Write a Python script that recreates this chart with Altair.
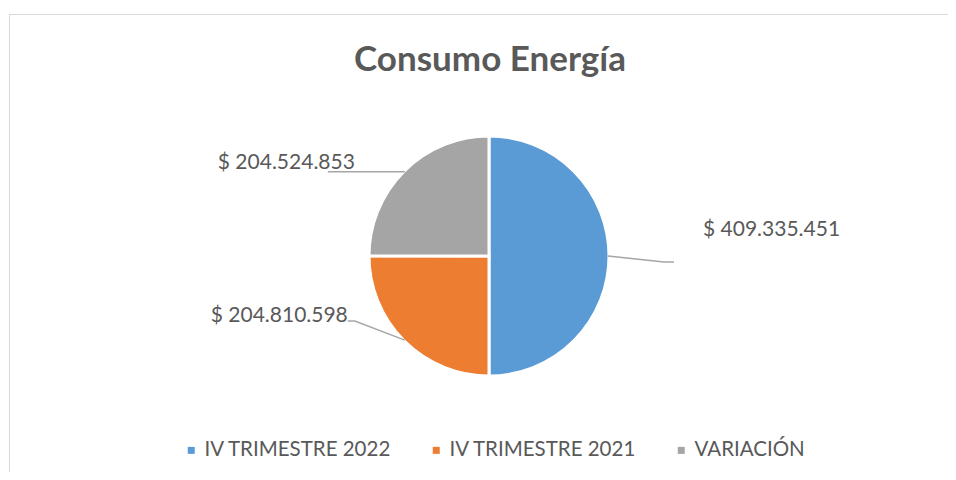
import math
import altair as alt
import pandas as pd

# ---- data ----
categories = ["IV TRIMESTRE 2022", "IV TRIMESTRE 2021", "VARIACIÓN"]
values = [409335451, 204810598, 204524853]
colors = ["#5B9BD5", "#ED7D31", "#A5A5A5"]
title_text = "Consumo Energía"

# ---- layout constants (chart coordinates) ----
W, H = 940, 464
CX, CY, R = 481, 248, 119
FONT = "Lato"
TXT = "#595959"

df = pd.DataFrame({"category": categories, "value": values, "idx": range(len(values))})
total = sum(values)
cum = 0
mids = []
for v in values:
    mids.append((cum + v / 2) / total * 2 * math.pi)
    cum += v
df["mid"] = mids
df["ex"] = CX + R * df["mid"].apply(math.sin)
df["ey"] = CY - R * df["mid"].apply(math.cos)
df["label"] = df["value"].apply(lambda v: "$ " + f"{v:,}".replace(",", "."))

# label placement offsets relative to slice edge point (style, not data)
elbow = [(56, 6), (-50, -19), (-77, 0)]
end = [(66, 6), (-57, -19), (-77, 0)]
lab = [(95, -26), (-57, -24), (-50, -9)]
side = ["left", "right", "right"]

rows = []
for i in range(len(df)):
    ex, ey = df["ex"][i], df["ey"][i]
    pts = [(ex, ey), (ex + elbow[i][0], ey + elbow[i][1]), (ex + end[i][0], ey + end[i][1])]
    for k, (px, py) in enumerate(pts):
        rows.append({"category": categories[i], "k": k, "px": px, "py": py})
lines_df = pd.DataFrame(rows)

df["lx"] = [df["ex"][i] + lab[i][0] for i in range(len(df))]
df["ly"] = [df["ey"][i] + lab[i][1] for i in range(len(df))]
df["side"] = side

base = alt.Chart(df)

border_top = alt.Chart(pd.DataFrame({"a": [0]})).mark_rule(color="#D9D9D9", strokeWidth=1).encode(
    x=alt.value(1), x2=alt.value(W), y=alt.value(6.5)
)
border_left = alt.Chart(pd.DataFrame({"a": [0]})).mark_rule(color="#D9D9D9", strokeWidth=1).encode(
    x=alt.value(1.5), y=alt.value(6), y2=alt.value(H)
)

pie = base.mark_arc(outerRadius=R + 1, stroke="white", strokeWidth=3).encode(
    theta=alt.Theta("value:Q", stack=True),
    order=alt.Order("idx:Q"),
    color=alt.Color(
        "category:N",
        scale=alt.Scale(domain=categories, range=colors),
        sort=categories,
        legend=alt.Legend(
            title=None,
            orient="none",
            legendX=173,
            legendY=432,
            direction="horizontal",
            symbolType="square",
            symbolSize=49,
            symbolStrokeWidth=0,
            labelFont=FONT,
            labelFontSize=20.5,
            labelColor=TXT,
            labelOffset=3,
            labelLimit=0,
            columnPadding=34,
            padding=0,
        ),
    ),
    x=alt.value(CX),
    y=alt.value(CY),
)

leaders = alt.Chart(lines_df).mark_line(color="#A6A6A6", strokeWidth=1.5).encode(
    x=alt.X("px:Q", scale=None, axis=None),
    y=alt.Y("py:Q", scale=None, axis=None),
    detail="category:N",
    order="k:Q",
)

lab_left = base.transform_filter(alt.datum.side == "left").mark_text(
    align="left", baseline="middle", font=FONT, fontSize=21, color=TXT
).encode(x=alt.X("lx:Q", scale=None, axis=None), y=alt.Y("ly:Q", scale=None, axis=None), text="label:N")

lab_right = base.transform_filter(alt.datum.side == "right").mark_text(
    align="right", baseline="middle", font=FONT, fontSize=21, color=TXT
).encode(x=alt.X("lx:Q", scale=None, axis=None), y=alt.Y("ly:Q", scale=None, axis=None), text="label:N")

title = alt.Chart(pd.DataFrame({"t": [title_text]})).mark_text(
    font=FONT, fontSize=35, fontWeight="bold", color=TXT, align="center", baseline="middle"
).encode(x=alt.value(482), y=alt.value(52), text="t:N")

chart = (
    alt.layer(border_top, border_left, pie, leaders, lab_left, lab_right, title)
    .properties(width=W, height=H, autosize=alt.AutoSizeParams(type="none"), padding=0)
    .configure_view(stroke=None)
    .resolve_scale(x="independent", y="independent")
)

chart.save("out.html", embed_options={"renderer": "svg", "actions": False})
